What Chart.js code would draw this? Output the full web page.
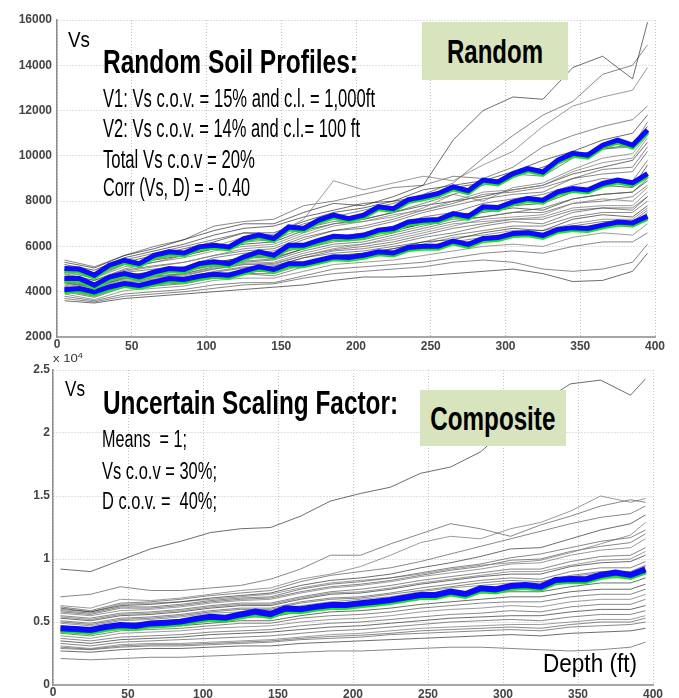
<!DOCTYPE html>
<html>
<head>
<meta charset="utf-8">
<script src="https://cdn.jsdelivr.net/npm/chart.js@4.4.1/dist/chart.umd.min.js"></script>
<style>
  body { margin: 0; background: #fff; width: 679px; height: 698px; overflow: hidden; position: relative; }
  canvas { position: absolute; left: 0; }
  #randomChart { z-index: 2; }
  #compositeChart { z-index: 1; }
  .note { position: absolute; z-index: 3; white-space: nowrap; color: #000; font-family: "Liberation Sans Narrow", "Liberation Sans", Arial, sans-serif; transform-origin: left center; }
  .tag { position: absolute; z-index: 3; background: #d7e4bd; display: flex; align-items: center; justify-content: center; }
  .tag span { font-family: "Liberation Sans Narrow", "Liberation Sans", Arial, sans-serif; font-weight: bold; font-size: 34px; line-height: 34px; white-space: nowrap; transform-origin: center center; }
</style>
</head>
<body>
<canvas id="randomChart" width="679" height="356" style="top:0;width:679px;height:356px"></canvas>
<canvas id="compositeChart" width="679" height="350" style="top:348px;width:679px;height:350px"></canvas>

<div class="note" data-w="22" style="left:68px;top:29px;font-size:22px;line-height:22px">Vs</div>
<div class="note" data-w="255" style="left:103px;top:45px;font-size:33px;line-height:33px;font-weight:bold">Random Soil Profiles:</div>
<div class="note" data-w="272" style="left:103px;top:86px;font-size:25px;line-height:25px">V1: Vs c.o.v. = 15% and c.l. = 1,000ft</div>
<div class="note" data-w="257" style="left:103px;top:116px;font-size:25px;line-height:25px">V2: Vs c.o.v. = 14% and c.l.= 100 ft</div>
<div class="note" data-w="152" style="left:103px;top:147px;font-size:25px;line-height:25px">Total Vs c.o.v = 20%</div>
<div class="note" data-w="147" style="left:103px;top:175px;font-size:25px;line-height:25px">Corr (Vs, D) = - 0.40</div>
<div class="tag" style="left:422px;top:22px;width:146px;height:58px"><span data-w="96">Random</span></div>

<div class="note" data-w="30" style="left:53px;top:354px;font-size:10px;line-height:10px;font-family:'Liberation Sans',Arial,sans-serif;color:#333">x 10<sup style="font-size:7px;line-height:0">4</sup></div>
<div class="note" data-w="20" style="left:65px;top:378px;font-size:22px;line-height:22px">Vs</div>
<div class="note" data-w="295" style="left:103px;top:386px;font-size:33px;line-height:33px;font-weight:bold">Uncertain Scaling Factor:</div>
<div class="note" data-w="85" style="left:102px;top:428px;font-size:23px;line-height:23px">Means&nbsp; = 1;</div>
<div class="note" data-w="115" style="left:102px;top:460px;font-size:23px;line-height:23px">Vs c.o.v = 30%;</div>
<div class="note" data-w="115" style="left:102px;top:490px;font-size:23px;line-height:23px">D c.o.v. =&nbsp; 40%;</div>
<div class="tag" style="left:420px;top:390px;width:146px;height:56px"><span data-w="125">Composite</span></div>
<div class="note" data-w="94" style="left:543px;top:651px;font-size:25px;line-height:25px">Depth (ft)</div>

<script>
// depth (ft) of the sampled points
const depthFine = [5, 15, 25, 35, 45, 55, 65, 75, 85, 95, 105, 115, 125, 135, 145, 155, 165, 175, 185, 195,
                   205, 215, 225, 235, 245, 255, 265, 275, 285, 295, 305, 315, 325, 335, 345, 355, 365, 375, 385, 395];
const depthCoarse = [5, 25, 45, 65, 85, 105, 125, 145, 165, 185, 205, 225, 245, 265, 285, 305, 325, 345, 365, 385, 395];
const depthTicks = [0, 50, 100, 150, 200, 250, 300, 350, 400];

// Random panel: statistics lines (blue)
const randomUpper = [5020, 5000, 4730, 5170, 5390, 5240, 5610, 5760, 5710, 5980, 6050, 5980, 6350, 6500, 6350, 6860, 6790, 7160, 7380, 7230,
                     7380, 7750, 7670, 8070, 8190, 8340, 8630, 8460, 8930, 8850, 9220, 9440, 9290, 9810, 10110, 10030, 10470, 10690, 10470, 11140];
const randomMedian = [4580, 4580, 4290, 4650, 4800, 4650, 4870, 5020, 4980, 5240, 5320, 5240, 5540, 5760, 5610, 6050, 6050, 6270, 6450, 6420,
                      6490, 6720, 6790, 7080, 7160, 7190, 7450, 7330, 7750, 7720, 7970, 8120, 8040, 8410, 8560, 8490, 8780, 8930, 8810, 9220];
const randomLower = [4090, 4140, 3990, 4210, 4360, 4280, 4430, 4580, 4540, 4680, 4770, 4730, 4920, 5100, 4980, 5240, 5240, 5390, 5540, 5510,
                     5610, 5760, 5710, 5950, 6010, 6010, 6240, 6090, 6350, 6390, 6570, 6600, 6490, 6750, 6830, 6790, 6940, 7080, 7040, 7330];

// Random panel: individual profiles (on depthCoarse)
const randomProfiles = [
  [5300, 5050, 5600, 5900, 6300, 6700, 7000, 7000, 7500, 7900, 7800, 8200, 8700, 10700, 12000, 12600, 12500, 13900, 14400, 13400, 15900],
  [5100, 4800, 5400, 5700, 6000, 6300, 6600, 6500, 7000, 7300, 7600, 7900, 8300, 8800, 9900, 10900, 11800, 12400, 13600, 14000, 14900],
  [4900, 4600, 5200, 5400, 5700, 6000, 6400, 6500, 7200, 8900, 8500, 8800, 9100, 8900, 9600, 10200, 11300, 12200, 12600, 12900, 13900],
  [5400, 5100, 5600, 6000, 6300, 6900, 7100, 7200, 7800, 8000, 8300, 8600, 8700, 9100, 9000, 9500, 10400, 10900, 11300, 11600, 12200],
  [5000, 4700, 5300, 5600, 5900, 6200, 6600, 6600, 7100, 7500, 7700, 8000, 8500, 8700, 8900, 9300, 9800, 10200, 10700, 11000, 11800],
  [4800, 4500, 5000, 5300, 5600, 5900, 6200, 6300, 6800, 7100, 7200, 7500, 7900, 8300, 8700, 9200, 9100, 9900, 10300, 10400, 11500],
  [4700, 4400, 4900, 5100, 5300, 5600, 5900, 6000, 6500, 6900, 7100, 7400, 7600, 8000, 8400, 8500, 8700, 9300, 9700, 9900, 10800],
  [4650, 4350, 4850, 5000, 5100, 5500, 5700, 5800, 6300, 6700, 6800, 7100, 7500, 7800, 8100, 8300, 8400, 9000, 9200, 9300, 10200],
  [4500, 4250, 4700, 4800, 4900, 5200, 5500, 5500, 5900, 6300, 6400, 6700, 7000, 7300, 7600, 7800, 7900, 8400, 8700, 8600, 9600],
  [4400, 4150, 4600, 4700, 4800, 5100, 5300, 5400, 5800, 6100, 6200, 6500, 6800, 7100, 7300, 7500, 7700, 8100, 8300, 8400, 9000],
  [4300, 4050, 4500, 4600, 4700, 5000, 5200, 5200, 5600, 5900, 6100, 6300, 6600, 6900, 7200, 7300, 7400, 7900, 8100, 8000, 8600],
  [4200, 3950, 4400, 4500, 4600, 4900, 5100, 5100, 5500, 5800, 5900, 6100, 6400, 6600, 6900, 7100, 7000, 7500, 7700, 7600, 8200],
  [4100, 3850, 4300, 4400, 4450, 4700, 4900, 4900, 5300, 5600, 5700, 5900, 6200, 6300, 6600, 6800, 6700, 7200, 7400, 7300, 7800],
  [4000, 3750, 4200, 4250, 4350, 4600, 4800, 4700, 5100, 5400, 5500, 5700, 5900, 6100, 6300, 6500, 6400, 6800, 7000, 7000, 7500],
  [3900, 3650, 4050, 4150, 4250, 4500, 4600, 4600, 4900, 5200, 5300, 5400, 5600, 5800, 6000, 6100, 6000, 6400, 6600, 6500, 7000],
  [3800, 3600, 3900, 4000, 4100, 4300, 4400, 4400, 4700, 5000, 5100, 5200, 5300, 5500, 5700, 5800, 5700, 6000, 6200, 6200, 6600],
  [3600, 3500, 3700, 3800, 3900, 4000, 4100, 4200, 4300, 4500, 4650, 4650, 4700, 4800, 4900, 5000, 4800, 4450, 4500, 4900, 5700],
  [3700, 3550, 3800, 3900, 4000, 4150, 4300, 4350, 4600, 4800, 4900, 5000, 5100, 5300, 5400, 5300, 5000, 4900, 5000, 5300, 6100],
  [4850, 4600, 5100, 5300, 5500, 5800, 6000, 6100, 6600, 7000, 7100, 7300, 7700, 8300, 8000, 8600, 8800, 9400, 9900, 10100, 10900],
  [4600, 4300, 4700, 4900, 5100, 5300, 5500, 5700, 6100, 6400, 6600, 6900, 7300, 7500, 7900, 8100, 8300, 8700, 9000, 8900, 9800],
  [4550, 4300, 4750, 4850, 5000, 5300, 5500, 5600, 6000, 6300, 6500, 6700, 7000, 7400, 7500, 7700, 7600, 8100, 8300, 8400, 8900],
  [4450, 4200, 4650, 4750, 4900, 5150, 5350, 5450, 5900, 6200, 6300, 6600, 6900, 7200, 7300, 7500, 7500, 7900, 8000, 8200, 8700],
  [4350, 4100, 4550, 4650, 4800, 5050, 5250, 5300, 5700, 6000, 6100, 6400, 6700, 7000, 7100, 7200, 7300, 7700, 7800, 7800, 8400],
  [4250, 4000, 4450, 4550, 4650, 4850, 5050, 5150, 5500, 5700, 5800, 6000, 6200, 6500, 6700, 6900, 6900, 7300, 7500, 7500, 8000],
  [5200, 4950, 5500, 5800, 6100, 6500, 6800, 6900, 7300, 7600, 7900, 8000, 8200, 8600, 8800, 9100, 9500, 10000, 10300, 10500, 11300],
  [4750, 4500, 4950, 5150, 5300, 5600, 5800, 5900, 6400, 6700, 6900, 7200, 7600, 7900, 8300, 8400, 8600, 9000, 9400, 9500, 10400],
  [4150, 3900, 4350, 4400, 4500, 4750, 4950, 5000, 5300, 5550, 5700, 5900, 6100, 6400, 6500, 6700, 6700, 7000, 7200, 7200, 7700],
  [4050, 3800, 4250, 4300, 4400, 4650, 4800, 4800, 5200, 5450, 5500, 5800, 6000, 6200, 6400, 6600, 6500, 6900, 7100, 7100, 7600],
  [4950, 4700, 5200, 5400, 5600, 5900, 6100, 6200, 6700, 7000, 7200, 7500, 7800, 8000, 8200, 8500, 8700, 9200, 9500, 9800, 10600],
  [4400, 4200, 4600, 4650, 4750, 5000, 5200, 5250, 5600, 5850, 6000, 6200, 6500, 6800, 7000, 7200, 7200, 7600, 7700, 7700, 8200]
];

// Composite panel: median line (blue)
const compositeMedian = [4500, 4450, 4370, 4600, 4760, 4680, 4890, 4950, 5030, 5250, 5420, 5340, 5600, 5820, 5630, 6080, 6010, 6200, 6350, 6350,
                         6480, 6600, 6750, 6950, 7140, 7140, 7410, 7220, 7670, 7590, 7860, 7940, 7800, 8330, 8410, 8390, 8730, 8920, 8730, 9180];

// Composite panel: individual profiles (on depthCoarse)
const compositeProfiles = [
  [9200, 9000, 9900, 10800, 11400, 12100, 12400, 12500, 13400, 14600, 15200, 15700, 16800, 17300, 18500, 20600, 22400, 23900, 24200, 23000, 24300],
  [7000, 7200, 7800, 7500, 7500, 7700, 7900, 8400, 9200, 10300, 10300, 11200, 12000, 12800, 12400, 11800, 12700, 13400, 14200, 14700, 14500],
  [6300, 6100, 6800, 6700, 6900, 7200, 7500, 7700, 8400, 8800, 9400, 10300, 11300, 11800, 11600, 12400, 12900, 13800, 15000, 14500, 14800],
  [6200, 5900, 6500, 6600, 6800, 7100, 7300, 7500, 8200, 8700, 9000, 9300, 9800, 10400, 11000, 11600, 12200, 12800, 13300, 13600, 14200],
  [6100, 5800, 6300, 6400, 6600, 6900, 7100, 7300, 7900, 8300, 8500, 8800, 9300, 9700, 10200, 10800, 10900, 11600, 12300, 12800, 13500],
  [5900, 5700, 6200, 6200, 6400, 6700, 6900, 7000, 7600, 8000, 8200, 8500, 8900, 9300, 9600, 10100, 10400, 10900, 11400, 11700, 12300],
  [5700, 5500, 5900, 6000, 6200, 6500, 6700, 6800, 7300, 7700, 7900, 8200, 8600, 8900, 9200, 9600, 9700, 10300, 10700, 10900, 11600],
  [5500, 5300, 5700, 5800, 6000, 6300, 6500, 6500, 7000, 7400, 7600, 7900, 8300, 8600, 8900, 9200, 9200, 9800, 10200, 10300, 10900],
  [5300, 5100, 5500, 5600, 5800, 6100, 6300, 6300, 6800, 7200, 7300, 7600, 8000, 8300, 8600, 8800, 8800, 9400, 9700, 9800, 10300],
  [5100, 4900, 5300, 5400, 5600, 5900, 6100, 6100, 6600, 6900, 7000, 7300, 7700, 8000, 8300, 8500, 8400, 9000, 9300, 9300, 9800],
  [4900, 4700, 5100, 5200, 5400, 5700, 5800, 5900, 6300, 6600, 6800, 7000, 7400, 7700, 7900, 8100, 8100, 8600, 8900, 8900, 9400],
  [4700, 4500, 4900, 5000, 5100, 5400, 5600, 5600, 6000, 6300, 6500, 6700, 7000, 7300, 7500, 7700, 7700, 8200, 8500, 8500, 8900],
  [4300, 4100, 4500, 4600, 4700, 4900, 5100, 5100, 5500, 5800, 5900, 6100, 6400, 6600, 6800, 7000, 7000, 7400, 7600, 7600, 8000],
  [4100, 3900, 4300, 4400, 4500, 4700, 4900, 4900, 5300, 5500, 5600, 5800, 6100, 6300, 6500, 6600, 6600, 7000, 7200, 7200, 7600],
  [3900, 3700, 4100, 4200, 4300, 4500, 4600, 4700, 5000, 5200, 5300, 5500, 5800, 6000, 6100, 6300, 6200, 6600, 6800, 6800, 7200],
  [3700, 3500, 3800, 3900, 4000, 4200, 4300, 4400, 4700, 4900, 5000, 5200, 5400, 5600, 5700, 5900, 5800, 6200, 6400, 6400, 6800],
  [3500, 3300, 3600, 3700, 3800, 4000, 4100, 4200, 4400, 4600, 4700, 4900, 5100, 5300, 5400, 5500, 5500, 5800, 6000, 6000, 6300],
  [3300, 3100, 3400, 3500, 3600, 3700, 3800, 3900, 4100, 4300, 4400, 4600, 4800, 5000, 5100, 5200, 5100, 5400, 5600, 5600, 5900],
  [3100, 2900, 3200, 3300, 3300, 3400, 3500, 3600, 3800, 4000, 4100, 4300, 4500, 4600, 4700, 4800, 4800, 5000, 5200, 5200, 5500],
  [2900, 2800, 3000, 3100, 3100, 3200, 3300, 3400, 3600, 3700, 3800, 4000, 4100, 4200, 4300, 4400, 4300, 4600, 4700, 4800, 5000],
  [2700, 2600, 2800, 2900, 2900, 3000, 3100, 3100, 3300, 3400, 3500, 3600, 3700, 3800, 3900, 4000, 3900, 4100, 4200, 4300, 4500],
  [2100, 2000, 2100, 2200, 2200, 2300, 2400, 2500, 2600, 2700, 2700, 2800, 2900, 3000, 3000, 2900, 2800, 2700, 2800, 3000, 3400],
  [6000, 5800, 6400, 6500, 6600, 6800, 7000, 7200, 7700, 8100, 8300, 8500, 8800, 9200, 9500, 9700, 9900, 10500, 11200, 11900, 12900],
  [5000, 4800, 5200, 5300, 5500, 5800, 6000, 6000, 6500, 6800, 6900, 7200, 7500, 7800, 8100, 8300, 8200, 8700, 9000, 9000, 9500],
  [4500, 4300, 4700, 4800, 4900, 5200, 5400, 5400, 5800, 6100, 6200, 6500, 6800, 7100, 7300, 7400, 7400, 7800, 8100, 8100, 8500],
  [5800, 5600, 6100, 6100, 6300, 6600, 6800, 6900, 7400, 7800, 8000, 8300, 8700, 9100, 9400, 9900, 10000, 10600, 11000, 11300, 12000],
  [5400, 5200, 5600, 5700, 5900, 6200, 6400, 6400, 6900, 7300, 7400, 7700, 8100, 8400, 8700, 9000, 9000, 9500, 9900, 10000, 10600],
  [3000, 2850, 3100, 3200, 3200, 3300, 3400, 3500, 3700, 3850, 3950, 4100, 4300, 4400, 4500, 4600, 4500, 4800, 5000, 5000, 5300]
];

const grayShades = ['rgba(20,20,20,0.62)', 'rgba(85,85,85,0.7)', 'rgba(130,130,130,0.8)', 'rgba(40,40,40,0.55)'];
const tickFont = { family: 'Liberation Sans', size: 12, weight: 'bold' };

// draws a green copy just under the blue lines
const greenShadow = {
  id: 'greenShadow',
  beforeDatasetDraw(chart, args) {
    const ds = chart.data.datasets[args.index];
    if (!ds.shadowY) return;
    chart.ctx.save();
    chart.ctx.shadowColor = '#19e619';
    chart.ctx.shadowOffsetY = ds.shadowY;
    chart.ctx.shadowBlur = 0;
  },
  afterDatasetDraw(chart, args) {
    if (chart.data.datasets[args.index].shadowY) chart.ctx.restore();
  }
};

// the corner "0" of the depth axis is written here, from the x scale, so it shows exactly once
const zeroLabel = {
  id: 'zeroLabel',
  afterDraw(chart) {
    const xs = chart.scales.x;
    const ctx = chart.ctx;
    ctx.save();
    ctx.font = 'bold 12px "Liberation Sans"';
    ctx.fillStyle = '#444';
    ctx.textAlign = 'center';
    ctx.textBaseline = 'top';
    ctx.fillText(String(depthTicks[0]), xs.getPixelForValue(depthTicks[0]), xs.top + 2);
    ctx.restore();
  }
};

const toPoints = (xs, ys) => ys.map((y, i) => ({ x: xs[i], y }));

function profileSets(profiles) {
  return profiles.map((p, i) => ({
    data: toPoints(depthCoarse, p),
    borderColor: grayShades[i % grayShades.length],
    borderWidth: 1,
    pointRadius: 0,
    tension: 0,
    order: 2
  }));
}

function blueSet(values, width, shadowY) {
  return {
    data: toPoints(depthFine, values),
    borderColor: '#0a0aff',
    borderWidth: width,
    pointRadius: 0,
    tension: 0,
    order: 1,
    shadowY: shadowY
  };
}

function makeOptions(yMin, yMax, yStep, yFmt, padding, yWidth, xHeight, yPad) {
  return {
    animation: false,
    responsive: false,
    layout: { padding: padding },
    plugins: { legend: { display: false }, tooltip: { enabled: false } },
    scales: {
      x: {
        type: 'linear', min: 0, max: 400,
        afterBuildTicks: s => { s.ticks = depthTicks.map(v => ({ value: v })); },
        ticks: { autoSkip: false, color: '#444', font: tickFont, padding: 2, maxRotation: 0,
                 callback: v => (v === depthTicks[0] ? '' : String(v)) },
        grid: { color: '#c4c4c4', drawTicks: false },
        border: { color: '#a6a6a6', width: 2, dash: [1, 2] },
        afterFit: s => { s.height = xHeight; }
      },
      y: {
        min: yMin, max: yMax,
        ticks: { stepSize: yStep, autoSkip: false, color: '#444', font: tickFont, padding: yPad, callback: yFmt },
        grid: { color: '#c4c4c4', drawTicks: false },
        border: { color: '#8c8c8c', width: 1.5, dash: [1, 2] },
        afterFit: s => { s.width = yWidth; }
      }
    }
  };
}

new Chart(document.getElementById('randomChart'), {
  type: 'line',
  data: {
    datasets: [
      blueSet(randomUpper, 5, 2),
      blueSet(randomMedian, 5, 2),
      blueSet(randomLower, 5, 2),
      ...profileSets(randomProfiles)
    ]
  },
  options: makeOptions(2000, 16000, 2000, v => v, { top: 20, right: 24, left: 0, bottom: 0 }, 57, 19, 5),
  plugins: [greenShadow, zeroLabel]
});

new Chart(document.getElementById('compositeChart'), {
  type: 'line',
  data: {
    datasets: [
      blueSet(compositeMedian, 6, 2),
      ...profileSets(compositeProfiles)
    ]
  },
  options: makeOptions(0, 25000, 5000, v => v / 10000, { top: 22, right: 26, left: 0, bottom: 0 }, 53, 13, 3),
  plugins: [greenShadow, zeroLabel]
});

// squeeze the annotation text to the condensed width of the original
document.querySelectorAll('[data-w]').forEach(el => {
  const w = el.getBoundingClientRect().width;
  el.style.transform = 'scaleX(' + (parseFloat(el.dataset.w) / w) + ')';
});
</script>
</body>
</html>
